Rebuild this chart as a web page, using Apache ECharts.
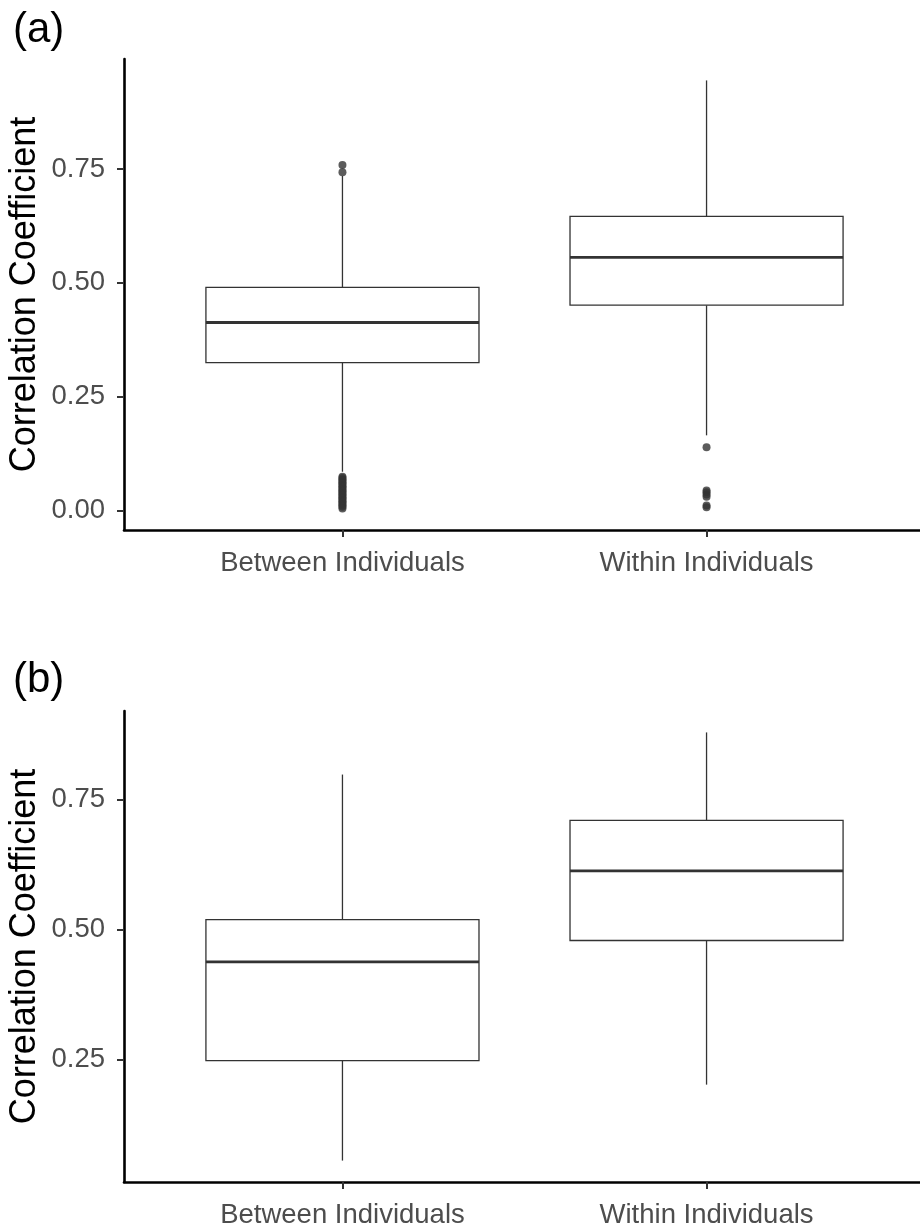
<!DOCTYPE html>
<html>
<head>
<meta charset="utf-8">
<script src="https://cdn.jsdelivr.net/npm/echarts@6/dist/echarts.min.js"></script>
<style>
html,body{margin:0;padding:0;background:#fff;overflow:hidden;}
#chart{width:920px;height:1229px;}
</style>
</head>
<body>
<div id="chart"></div>
<script>
// ---- data ----
const categories = ['Between Individuals', 'Within Individuals'];
const yTicksA = [0, 0.25, 0.5, 0.75];
const yTicksB = [0.25, 0.5, 0.75];
// [lower whisker, Q1, median, Q3, upper whisker]
const boxA_between = [0.085, 0.325, 0.413, 0.490, 0.735];
const boxA_within  = [0.165, 0.451, 0.556, 0.646, 0.945];
const boxB_between = [0.056, 0.248, 0.438, 0.519, 0.798];
const boxB_within  = [0.202, 0.479, 0.613, 0.710, 0.879];
const outA_between = [0.759, 0.743, 0.074, 0.071, 0.068, 0.065, 0.062, 0.059, 0.056, 0.053,
  0.050, 0.047, 0.044, 0.041, 0.038, 0.035, 0.032, 0.029, 0.026, 0.023, 0.020, 0.017,
  0.014, 0.011, 0.008, 0.004];
const outA_within = [0.139, 0.044, 0.040, 0.035, 0.030, 0.011, 0.007];

// ---- helpers ----
function padRange(vals) {
  const lo = Math.min(...vals), hi = Math.max(...vals);
  const p = (hi - lo) * 0.05;
  return [lo - p, hi + p];
}
const rangeA = padRange([...boxA_between, ...boxA_within, ...outA_between, ...outA_within]);
const rangeB = padRange([...boxB_between, ...boxB_within]);

const INK = '#333333';
const FONT = '"Liberation Sans", Arial, sans-serif';

function renderBox(params, api) {
  const x = api.value(0);
  const lo = api.coord([x, api.value(1)]);
  const q1 = api.coord([x, api.value(2)]);
  const md = api.coord([x, api.value(3)]);
  const q3 = api.coord([x, api.value(4)]);
  const hi = api.coord([x, api.value(5)]);
  const hw = api.size([0.375, 0])[0];
  const cx = lo[0];
  const thin = {stroke: INK, lineWidth: 1.3, fill: null};
  return {
    type: 'group',
    children: [
      {type: 'line', shape: {x1: cx, y1: q1[1], x2: cx, y2: lo[1]}, style: thin},
      {type: 'line', shape: {x1: cx, y1: q3[1], x2: cx, y2: hi[1]}, style: thin},
      {type: 'rect', shape: {x: cx - hw, y: q3[1], width: 2 * hw, height: q1[1] - q3[1]},
        style: {stroke: INK, lineWidth: 1.3, fill: '#ffffff'}},
      {type: 'line', shape: {x1: cx - hw, y1: md[1], x2: cx + hw, y2: md[1]},
        style: {stroke: INK, lineWidth: 2.8}}
    ]
  };
}

function xAxisCfg(gridIndex) {
  return {
    type: 'value', gridIndex: gridIndex, min: 0.4, max: 2.6,
    splitLine: {show: false},
    axisLine: {show: true, onZero: false, lineStyle: {color: '#000', width: 2.6}},
    axisTick: {show: true, customValues: [1, 2], length: 7, lineStyle: {color: INK, width: 2}},
    axisLabel: {show: true, customValues: [1, 2], margin: 19, color: '#4d4d4d',
      fontSize: 27.5, fontFamily: FONT,
      formatter: v => categories[Math.round(v) - 1] || ''}
  };
}
function yAxisCfg(gridIndex, range, ticks) {
  return {
    type: 'value', gridIndex: gridIndex, min: range[0], max: range[1],
    name: 'Correlation Coefficient', nameLocation: 'middle', nameGap: 81,
    nameMoveOverlap: false,
    nameTextStyle: {color: '#000', fontSize: 36, fontFamily: FONT},
    splitLine: {show: false},
    axisLine: {show: true, onZero: false, lineStyle: {color: '#000', width: 2.6}},
    axisTick: {show: true, customValues: ticks, length: 7, lineStyle: {color: INK, width: 2}},
    axisLabel: {show: true, customValues: ticks, margin: 19, color: '#4d4d4d',
      fontSize: 27.5, fontFamily: FONT, formatter: v => v.toFixed(2)}
  };
}

const chart = echarts.init(document.getElementById('chart'), null, {renderer: 'canvas'});
chart.setOption({
  backgroundColor: '#ffffff',
  animation: false,
  graphic: [
    {type: 'text', left: 13, top: 9, style: {text: '(a)', fontSize: 42, fontFamily: FONT, fill: '#000'}},
    {type: 'text', left: 13, top: 659, style: {text: '(b)', fontSize: 42, fontFamily: FONT, fill: '#000'}}
  ],
  grid: [
    {left: 124, top: 59, width: 801, height: 471, outerBoundsMode: 'none', containLabel: false},
    {left: 124, top: 711, width: 801, height: 471, outerBoundsMode: 'none', containLabel: false}
  ],
  xAxis: [xAxisCfg(0), xAxisCfg(1)],
  yAxis: [yAxisCfg(0, rangeA, yTicksA), yAxisCfg(1, rangeB, yTicksB)],
  series: [
    {type: 'custom', xAxisIndex: 0, yAxisIndex: 0, renderItem: renderBox,
      encode: {x: 0, y: [1, 2, 3, 4, 5]},
      data: [[1, ...boxA_between], [2, ...boxA_within]]},
    {type: 'scatter', xAxisIndex: 0, yAxisIndex: 0, symbol: 'circle', symbolSize: 8,
      itemStyle: {color: INK},
      data: [...outA_between.map(v => [1, v]), ...outA_within.map(v => [2, v])]},
    {type: 'custom', xAxisIndex: 1, yAxisIndex: 1, renderItem: renderBox,
      encode: {x: 0, y: [1, 2, 3, 4, 5]},
      data: [[1, ...boxB_between], [2, ...boxB_within]]}
  ]
});
</script>
</body>
</html>
